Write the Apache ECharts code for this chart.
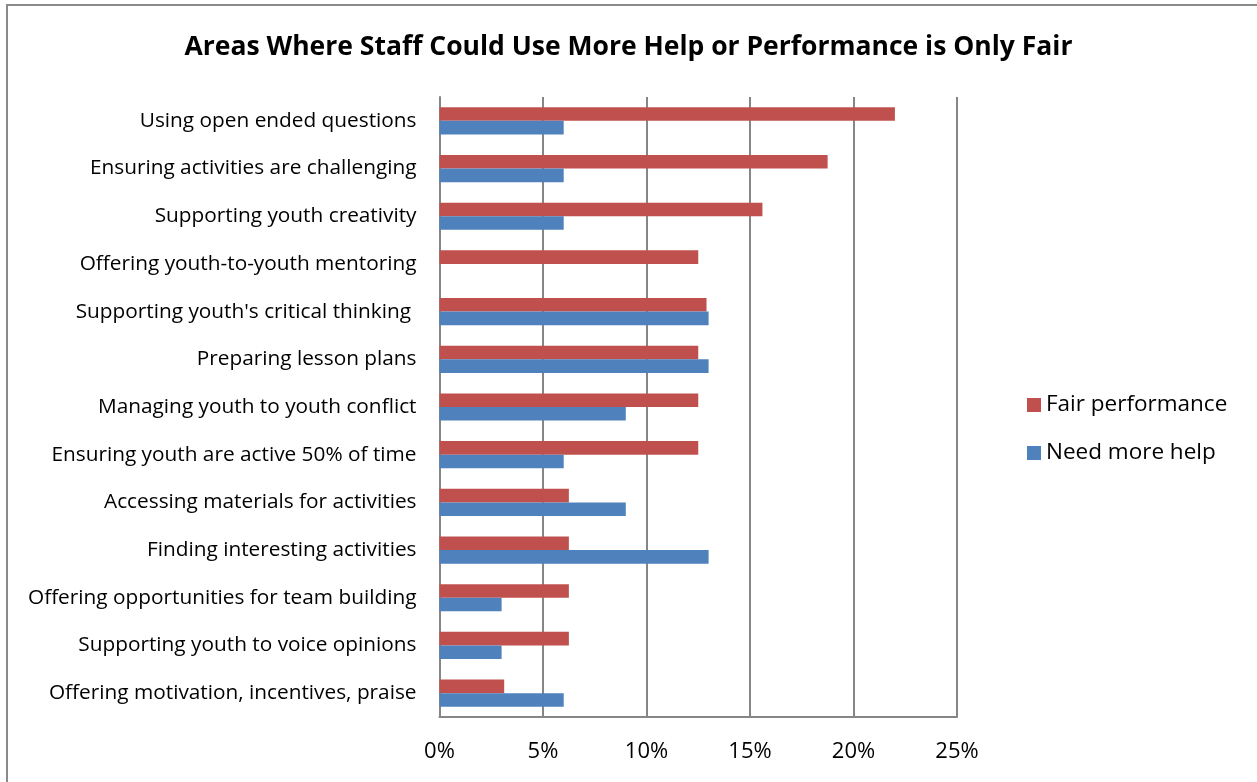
<!DOCTYPE html>
<html>
<head>
<meta charset="utf-8">
<script src="https://cdn.jsdelivr.net/npm/echarts@6/dist/echarts.min.js"></script>
<style>
  html, body { margin: 0; padding: 0; background: #fff; }
  #chart { width: 1257px; height: 782px; }
</style>
</head>
<body>
<div id="chart"></div>
<script>
// Skill areas, listed top to bottom
const categories = [
  'Using open ended questions',
  'Ensuring activities are challenging',
  'Supporting youth creativity',
  'Offering youth-to-youth mentoring',
  "Supporting youth's critical thinking ",
  'Preparing lesson plans',
  'Managing youth to youth conflict',
  'Ensuring youth are active 50% of time',
  'Accessing materials for activities',
  'Finding interesting activities',
  'Offering opportunities for team building',
  'Supporting youth to voice opinions',
  'Offering motivation, incentives, praise'
];

// Share of staff (%)
const fairPerformance = [22, 18.75, 15.6, 12.5, 12.9, 12.5, 12.5, 12.5, 6.25, 6.25, 6.25, 6.25, 3.125];
const needMoreHelp    = [6, 6, 6, 0, 13, 13, 9, 6, 9, 13, 3, 3, 6];

const xTicks = [0, 5, 10, 15, 20, 25];

const FONT = '"Open Sans", Lato, sans-serif';
const GRID_COLOR = '#868686';

const chart = echarts.init(document.getElementById('chart'), null, { renderer: 'canvas' });

chart.setOption({
  backgroundColor: '#fff',
  animation: false,
  title: {
    text: 'Areas Where Staff Could Use More Help or Performance is Only Fair',
    left: 'center',
    top: 29,
    textStyle: { fontFamily: FONT, fontSize: 26.5, fontWeight: 'bold', color: '#000' }
  },
  legend: {
    orient: 'vertical',
    left: 1022,
    top: 386,
    itemWidth: 14,
    itemHeight: 14,
    itemGap: 20,
    icon: 'rect',
    data: ['Fair performance', 'Need more help'],
    textStyle: { fontFamily: FONT, fontSize: 22.5, color: '#000', lineHeight: 28 }
  },
  grid: { left: 439.5, right: 300, top: 97, bottom: 65, containLabel: false },
  xAxis: {
    type: 'value',
    min: xTicks[0],
    max: xTicks[xTicks.length - 1],
    interval: 5,
    axisLine: { show: true, lineStyle: { color: GRID_COLOR, width: 2 } },
    axisTick: { show: false },
    splitLine: { show: true, lineStyle: { color: GRID_COLOR, width: 2 } },
    axisLabel: {
      margin: 24,
      fontFamily: FONT, fontSize: 22, color: '#000',
      formatter: v => v + '%'
    }
  },
  yAxis: {
    type: 'category',
    inverse: true,
    data: categories,
    axisLine: { show: true, lineStyle: { color: GRID_COLOR, width: 2 } },
    axisTick: { show: false },
    axisLabel: { margin: 23, fontFamily: FONT, fontSize: 20.8, color: '#000' }
  },
  series: [
    {
      name: 'Fair performance',
      type: 'bar',
      data: fairPerformance,
      barGap: '0%',
      barCategoryGap: '43%',
      itemStyle: { color: '#C0504D' }
    },
    {
      name: 'Need more help',
      type: 'bar',
      data: needMoreHelp,
      itemStyle: { color: '#4F81BD' }
    }
  ],
  graphic: [{
    type: 'rect',
    shape: { x: 7, y: 5, width: 1300, height: 800 },
    style: { fill: null, stroke: '#8a8a8a', lineWidth: 2 },
    silent: true
  }]
});
</script>
</body>
</html>
